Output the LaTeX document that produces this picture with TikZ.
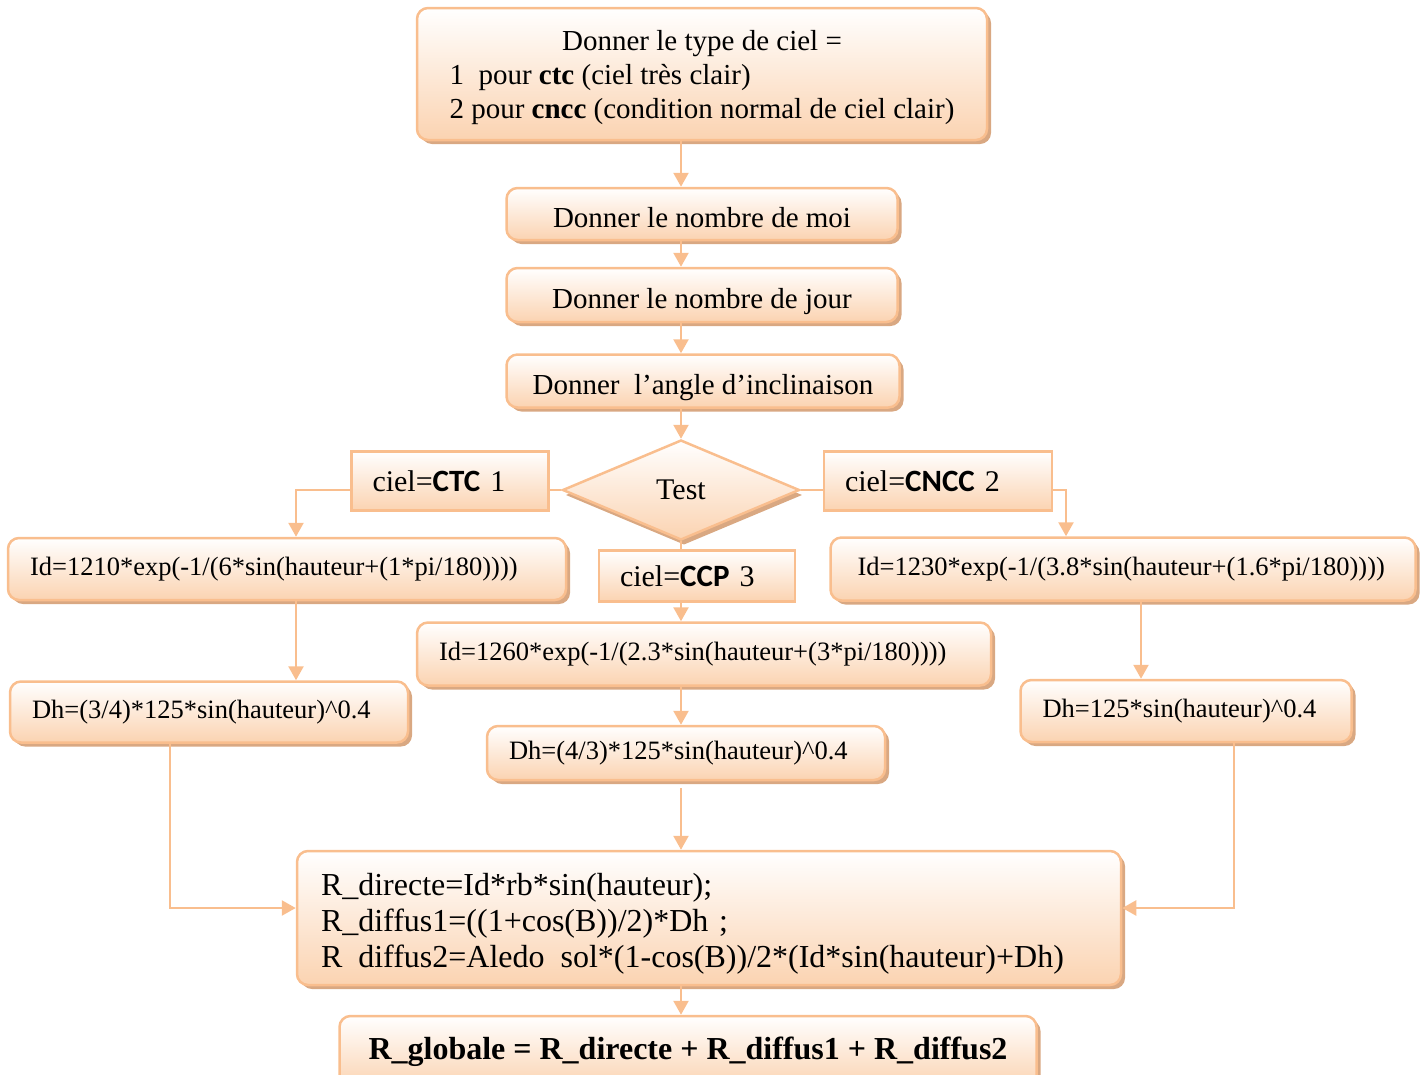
\documentclass[tikz,border=0pt]{standalone}
\usepackage{fontspec}
\setmainfont{Liberation Serif}
\newfontfamily\calib{Carlito}
\usetikzlibrary{arrows.meta,shapes.geometric,shadows}
\definecolor{cielorange}{HTML}{F9BE8E}
\definecolor{cielpeach}{HTML}{FBD3B1}
\definecolor{cielshadow}{HTML}{D9A882}
\newcommand{\ciel}[1]{{\calib\fontsize{31}{34}\selectfont\bfseries #1}}

\begin{document}
\begin{tikzpicture}[x=1pt,y=-1pt,
  font=\fontsize{29}{34}\selectfont,
  base/.style={draw=cielorange,line width=2.5pt,top color=white,bottom color=cielpeach,inner sep=0pt},
  box/.style={base,rounded corners=11pt,general shadow={fill=cielshadow,shadow xshift=4pt,shadow yshift=-4pt}},
  etape/.style={box,text height=26pt,text depth=0pt},
  cas/.style={base,rectangle,align=left,font=\fontsize{30}{34}\selectfont},
  formule/.style={box,align=left,font=\fontsize{26.5}{30}\selectfont},
  test/.style={base,diamond,aspect=2.37,minimum width=237pt,minimum height=100pt,font=\fontsize{30}{34}\selectfont,general shadow={fill=cielshadow,shadow xshift=3pt,shadow yshift=-5pt}},
  arr/.style={-{Triangle[length=14pt,width=15pt]},draw=cielorange,line width=2.5pt},
  lien/.style={draw=cielorange,line width=2.5pt}
]
\useasboundingbox (0,0) rectangle (1422,1074);
\clip (0,0) rectangle (1422,1074);

\node[box,minimum width=570pt,minimum height=132pt] (type) at (702,74) {\begin{tabular}{@{}l@{}}\multicolumn{1}{@{}c@{}}{\rule{0pt}{32pt}Donner le type de ciel =}\\1\ \ pour \textbf{ctc} (ciel très clair)\\2 pour \textbf{cncc} (condition normal de ciel clair)\end{tabular}};
\node[etape,minimum width=391pt,minimum height=52pt] (moi) at (702,214) {Donner le nombre de moi};
\node[etape,minimum width=391pt,minimum height=54pt] (jour) at (702,295) {Donner le nombre de jour};
\node[etape,minimum width=393pt,minimum height=53pt] (angle) at (703,381) {Donner\ \ l’angle d’inclinaison};

\node[test] (test) at (681,490) {Test};
\node[cas,minimum width=197pt,minimum height=59pt,text width=155pt] (ctc) at (450,481) {ciel=\ciel{CTC} 1};
\node[cas,minimum width=228pt,minimum height=59pt,text width=186pt] (cncc) at (938,481) {ciel=\ciel{CNCC} 2};
\node[cas,minimum width=196pt,minimum height=51pt,text width=154pt] (ccp) at (697,576) {ciel=\ciel{CCP} 3};

\node[formule,minimum width=558pt,minimum height=62pt,text width=514pt] (id1) at (287,569) {Id=1210*exp(-1/(6*sin(hauteur+(1*pi/180))))};
\node[formule,minimum width=585pt,minimum height=63pt,text width=531pt] (id2) at (1123,569) {Id=1230*exp(-1/(3.8*sin(hauteur+(1.6*pi/180))))};
\node[formule,minimum width=574pt,minimum height=63pt,text width=530pt] (id3) at (704,654) {Id=1260*exp(-1/(2.3*sin(hauteur+(3*pi/180))))};

\node[formule,minimum width=398pt,minimum height=61pt,text width=354pt] (dh1) at (209,712) {Dh=(3/4)*125*sin(hauteur)\textasciicircum0.4};
\node[formule,minimum width=398pt,minimum height=54pt,text width=354pt] (dh3) at (686,753) {Dh=(4/3)*125*sin(hauteur)\textasciicircum0.4};
\node[formule,minimum width=331pt,minimum height=62pt,text width=287pt] (dh2) at (1186,711) {Dh=125*sin(hauteur)\textasciicircum0.4};

\node[box,minimum width=824pt,minimum height=134pt,text width=776pt,align=left,font=\fontsize{32}{36}\selectfont] (r) at (709,918) {\rule{0pt}{34pt}R\_directe=Id*rb*sin(hauteur);\\R\_diffus1=((1+cos(B))/2)*Dh ;\\R\phantom{\_}diffus2=Aledo\phantom{\_}sol*(1-cos(B))/2*(Id*sin(hauteur)+Dh)};
\node[box,minimum width=697pt,minimum height=72pt,font=\fontsize{32}{36}\selectfont\bfseries] (glob) at (688,1052) {R\_globale = R\_directe + R\_diffus1 + R\_diffus2};

\draw[arr] (type.south -| test) -- (moi.north -| test);
\draw[arr] (moi.south -| test) -- (jour.north -| test);
\draw[arr] (jour.south -| test) -- (angle.north -| test);
\draw[arr] (angle.south -| test) -- (test.north);
\draw[lien] (test.west) -- (test.west -| ctc.east);
\draw[lien] (test.east) -- (test.east -| cncc.west);
\draw[lien] (test.south) -- (ccp.north -| test);
\draw[arr] (ctc.west |- test) -| ([xshift=9pt]id1.north);
\draw[arr] (cncc.east |- test) -| ([xshift=-57pt]id2.north);
\draw[arr] (ccp.south -| test) -- (id3.north -| test);
\draw[arr] ([xshift=9pt]id1.south) -- ([xshift=9pt]id1.south |- dh1.north);
\draw[arr] (id3.south -| test) -- (dh3.north -| test);
\draw[arr] ([xshift=18pt]id2.south) -- ([xshift=18pt]id2.south |- dh2.north);
\draw[arr] ([xshift=-39pt]dh1.south) |- ([yshift=10pt]r.west);
\draw[arr] ([xshift=48pt]dh2.south) |- ([yshift=10pt]r.east);
\draw[arr] ([yshift=-7pt]dh3.south -| test) -- (r.north -| test);
\draw[arr] (r.south -| test) -- (glob.north -| test);
\end{tikzpicture}
\end{document}
